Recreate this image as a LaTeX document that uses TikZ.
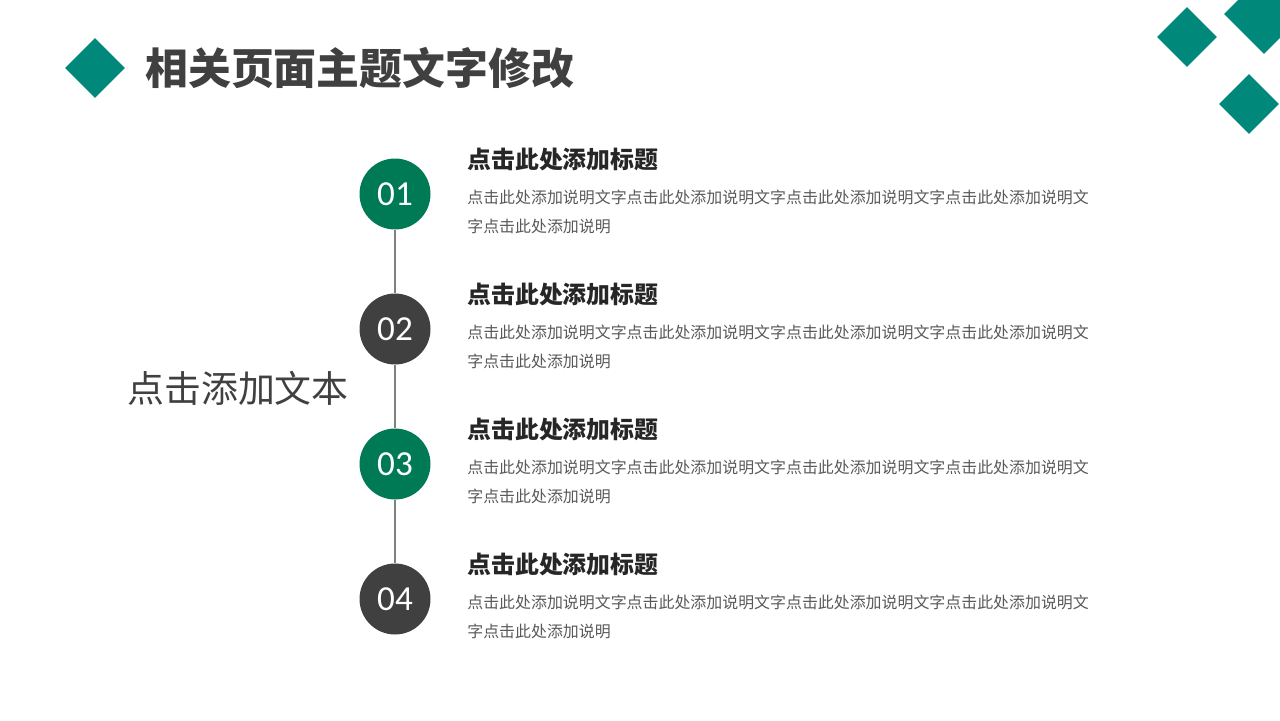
\documentclass[tikz,border=0pt]{standalone}
\usepackage{fontspec}
\setmainfont{Noto Sans CJK SC}
\newfontfamily\numfont{Carlito}
\usetikzlibrary{shapes.geometric}
\definecolor{myteal}{HTML}{00897B}
\definecolor{mygreen}{HTML}{007A55}
\definecolor{mydark}{HTML}{404040}
\definecolor{mytext}{HTML}{595959}
\begin{document}
\begin{tikzpicture}[x=0.02cm,y=-0.02cm]
	\tikzset{
		mydiamond/.style={diamond, fill=myteal, inner sep=0pt, minimum size=#1},
		mycircle/.style={circle, inner sep=0pt, minimum size=1.42cm, text=white, font=\numfont\fontsize{20}{20}\selectfont},
		myhead/.style={anchor=west, inner sep=0pt, text=black!85, font=\bfseries\fontsize{13.6}{14}\selectfont},
		mybody/.style={anchor=north west, inner sep=0pt, align=left, text=mytext, font=\fontsize{9.07}{16.4}\selectfont},
		myline/.style={draw=black!50, line width=0.6pt}
	}

	\useasboundingbox (0,0) rectangle (1280,720);

	% title
	\node[mydiamond=1.2cm] (tdia) at (95,68) {};
	\node[anchor=west, inner sep=0pt, text=mydark, font=\bfseries\fontsize{24.4}{26}\selectfont] (title) at (145,68) {相关页面主题文字修改};

	% corner
	\node[mydiamond=1.2cm] (cd1) at (1187,37) {};
	\node[mydiamond=1.6cm] (cd2) at (1264,14) {};
	\node[mydiamond=1.2cm] (cd3) at (1249,104) {};

	\node[text=mydark, inner sep=0pt, font=\fontsize{21}{22}\selectfont] (left) at (238,388) {点击添加文本};

	\foreach \n/\c [count=\i] in {01/mygreen, 02/mydark, 03/mygreen, 04/mydark} {
		\node[mycircle, fill=\c] (c\i) at (395,59+\i*135) {\n};
		\node[myhead] (h\i) at (467,24+\i*135) {点击此处添加标题};
		\node[mybody] (b\i) at (467,55+\i*135) {点击此处添加说明文字点击此处添加说明文字点击此处添加说明文字点击此处添加说明文\\字点击此处添加说明};
	}

	\foreach \a/\b in {1/2, 2/3, 3/4} {
		\draw[myline] (c\a) -- (c\b);
	}
\end{tikzpicture}
\end{document}
